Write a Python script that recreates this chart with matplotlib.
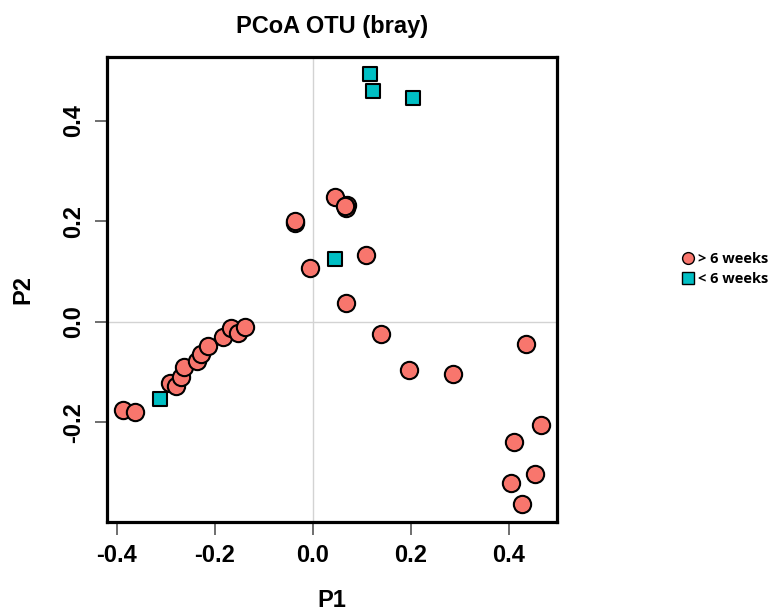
import numpy as np
import matplotlib
matplotlib.use("Agg")
import matplotlib.pyplot as plt
from matplotlib.lines import Line2D

plt.rcParams['font.family'] = ['Liberation Sans', 'DejaVu Sans']

# PCoA coordinates, samples older than 6 weeks
old_p1 = [-0.387, -0.362, -0.292, -0.280, -0.268, -0.263, -0.236, -0.229, -0.213,
          -0.183, -0.166, -0.152, -0.139,
          0.045, 0.069, 0.067, 0.066, -0.037, -0.036, 0.108, -0.005, 0.067,
          0.140, 0.196, 0.286, 0.435, 0.465, 0.411, 0.453, 0.405, 0.427]
old_p2 = [-0.175, -0.180, -0.121, -0.127, -0.109, -0.090, -0.077, -0.064, -0.048,
          -0.030, -0.013, -0.022, -0.011,
          0.249, 0.233, 0.226, 0.230, 0.197, 0.200, 0.133, 0.108, 0.037,
          -0.025, -0.095, -0.104, -0.044, -0.206, -0.239, -0.302, -0.321, -0.362]

# samples younger than 6 weeks
young_p1 = [0.116, 0.122, 0.204, 0.046, -0.312]
young_p2 = [0.493, 0.460, 0.445, 0.125, -0.154]

x_ticks = [-0.4, -0.2, 0.0, 0.2, 0.4]
y_ticks = [-0.2, 0.0, 0.2, 0.4]
labels = ['> 6 weeks', '< 6 weeks']
colors = ['#F8766D', '#00BFC4']

fig = plt.figure(figsize=(7.74, 6.16), dpi=100)
ax = fig.add_axes([0.1382, 0.1526, 0.5814, 0.7549])

ax.axhline(0, color='#d3d3d3', lw=1, zorder=0)
ax.axvline(0, color='#d3d3d3', lw=1, zorder=0)

ax.scatter(old_p1, old_p2, s=155, marker='o', c=colors[0], edgecolors='black',
           linewidths=1.5, zorder=3)
ax.scatter(young_p1, young_p2, s=115, marker='s', c=colors[1], edgecolors='black',
           linewidths=1.5, zorder=3)

ax.set_xlim(-0.420, 0.498)
ax.set_ylim(-0.398, 0.527)
ax.set_xticks(x_ticks)
ax.set_yticks(y_ticks)
ax.set_xticklabels(['%.1f' % v for v in x_ticks], fontsize=17, fontweight='bold')
ax.set_yticklabels(['%.1f' % v for v in y_ticks], fontsize=17, fontweight='bold',
                   rotation=90, va='center')
ax.tick_params(direction='out', length=9, width=1.2, color='#555555', pad=7)
for sp in ax.spines.values():
    sp.set_linewidth(2.3)

ax.set_xlabel('P1', fontsize=17, fontweight='bold', labelpad=16)
ax.set_ylabel('P2', fontsize=17, fontweight='bold', labelpad=20)
ax.set_title('PCoA OTU (bray)', fontsize=17, fontweight='bold', pad=17)

handles = [
    Line2D([], [], ls='none', marker='o', ms=8.5, mfc=colors[0], mec='black', mew=1),
    Line2D([], [], ls='none', marker='s', ms=8, mfc=colors[1], mec='black', mew=1),
]
fig.legend(handles, labels, loc='center left', bbox_to_anchor=(0.861, 0.563),
           frameon=False, handletextpad=0.1, labelspacing=0.45, handlelength=1.2,
           prop={'family': 'Open Sans', 'weight': 'bold', 'size': 10.5})

fig.savefig('out.png', dpi=100)
